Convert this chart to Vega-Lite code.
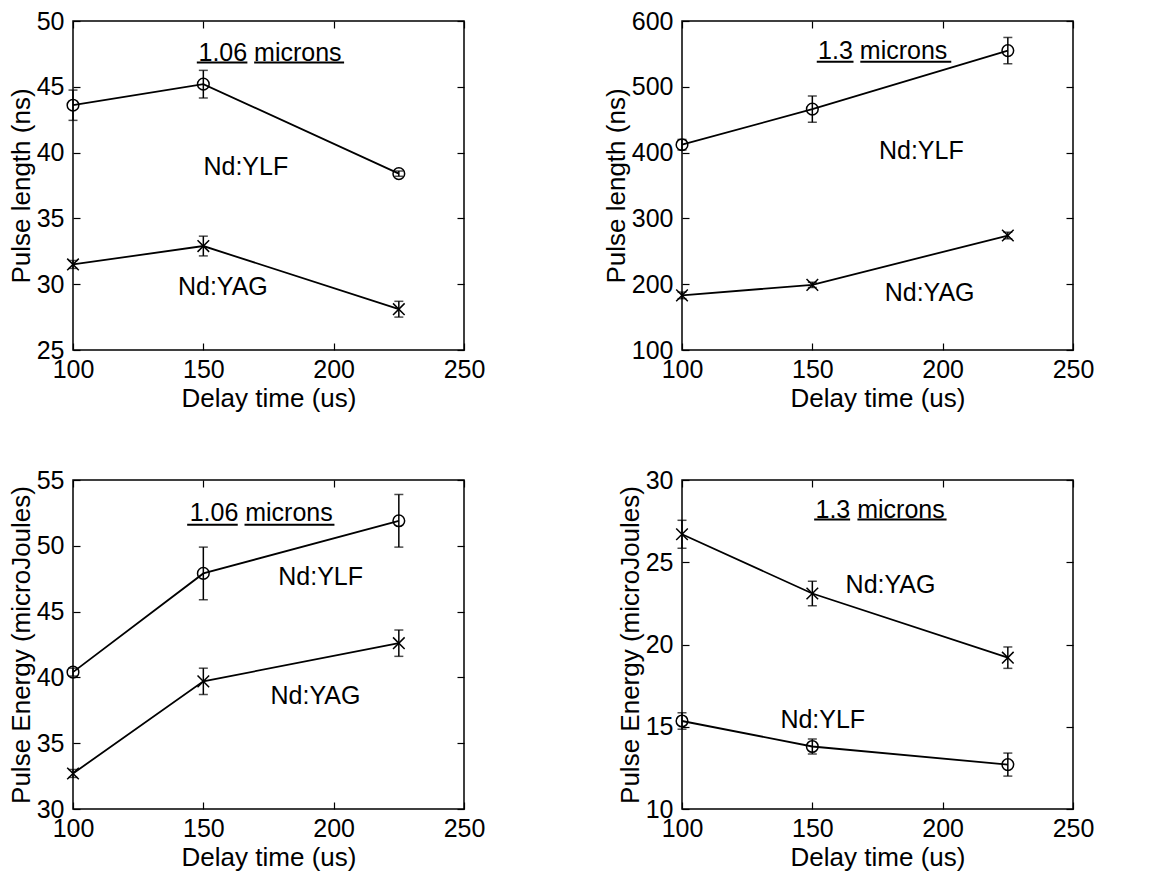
{
  "$schema": "https://vega.github.io/schema/vega-lite/v6.json",
  "background": "white",
  "padding": {"left": 7, "top": 8, "right": 5, "bottom": 5},
  "datasets": {
    "pts": [
      {"p": 1, "c": "YLF", "t": 100, "v": 43.6, "e": 1.15},
      {"p": 1, "c": "YLF", "t": 150, "v": 45.2, "e": 1.05},
      {"p": 1, "c": "YLF", "t": 225, "v": 38.4, "e": 0.2},
      {"p": 1, "c": "YAG", "t": 100, "v": 31.5, "e": 0.3},
      {"p": 1, "c": "YAG", "t": 150, "v": 32.9, "e": 0.75},
      {"p": 1, "c": "YAG", "t": 225, "v": 28.1, "e": 0.6},
      {"p": 2, "c": "YLF", "t": 100, "v": 412, "e": 8},
      {"p": 2, "c": "YLF", "t": 150, "v": 466, "e": 20},
      {"p": 2, "c": "YLF", "t": 225, "v": 555, "e": 20},
      {"p": 2, "c": "YAG", "t": 100, "v": 183, "e": 5},
      {"p": 2, "c": "YAG", "t": 150, "v": 199, "e": 4},
      {"p": 2, "c": "YAG", "t": 225, "v": 274, "e": 5},
      {"p": 3, "c": "YLF", "t": 100, "v": 40.4, "e": 0.3},
      {"p": 3, "c": "YLF", "t": 150, "v": 47.9, "e": 2.0},
      {"p": 3, "c": "YLF", "t": 225, "v": 51.9, "e": 2.0},
      {"p": 3, "c": "YAG", "t": 100, "v": 32.7, "e": 0.3},
      {"p": 3, "c": "YAG", "t": 150, "v": 39.7, "e": 1.0},
      {"p": 3, "c": "YAG", "t": 225, "v": 42.6, "e": 1.0},
      {"p": 4, "c": "YAG", "t": 100, "v": 26.7, "e": 0.85},
      {"p": 4, "c": "YAG", "t": 150, "v": 23.1, "e": 0.75},
      {"p": 4, "c": "YAG", "t": 225, "v": 19.2, "e": 0.65},
      {"p": 4, "c": "YLF", "t": 100, "v": 15.35, "e": 0.5},
      {"p": 4, "c": "YLF", "t": 150, "v": 13.8, "e": 0.45},
      {"p": 4, "c": "YLF", "t": 225, "v": 12.7, "e": 0.7}
    ],
    "notes": [
      {"p": 1, "t": 175.6, "v": 47.6, "label": "1.06 microns"},
      {"p": 1, "t": 166.3, "v": 38.9, "label": "Nd:YLF"},
      {"p": 1, "t": 157.5, "v": 29.8, "label": "Nd:YAG"},
      {"p": 2, "t": 177, "v": 554.5, "label": "1.3 microns"},
      {"p": 2, "t": 191.8, "v": 403, "label": "Nd:YLF"},
      {"p": 2, "t": 195, "v": 186, "label": "Nd:YAG"},
      {"p": 3, "t": 172.2, "v": 52.5, "label": "1.06 microns"},
      {"p": 3, "t": 195, "v": 47.6, "label": "Nd:YLF"},
      {"p": 3, "t": 193, "v": 38.6, "label": "Nd:YAG"},
      {"p": 4, "t": 176, "v": 28.2, "label": "1.3 microns"},
      {"p": 4, "t": 180, "v": 23.6, "label": "Nd:YAG"},
      {"p": 4, "t": 154, "v": 15.4, "label": "Nd:YLF"}
    ],
    "ul": [
      {"p": 1, "t": 147.5, "t2": 166.9, "v": 46.85},
      {"p": 1, "t": 169.5, "t2": 204, "v": 46.85},
      {"p": 2, "t": 151.7, "t2": 165.8, "v": 538},
      {"p": 2, "t": 168.4, "t2": 203.3, "v": 538},
      {"p": 3, "t": 143.8, "t2": 163.2, "v": 51.6},
      {"p": 3, "t": 165.8, "t2": 200.3, "v": 51.6},
      {"p": 4, "t": 150.7, "t2": 164.5, "v": 27.6},
      {"p": 4, "t": 167.3, "t2": 201.5, "v": 27.6}
    ]
  },
  "columns": 2,
  "align": "each",
  "spacing": {"row": 55, "column": 116},
  "concat": [
    {
      "width": 391, "height": 329,
      "resolve": {"axis": {"x": "independent", "y": "independent"}},
      "layer": [
        {"data": {"name": "pts"}, "transform": [{"filter": "datum.p == 1"}],
         "mark": {"type": "line", "color": "black", "strokeWidth": 1.8},
         "encoding": {
           "x": {"field": "t", "type": "quantitative", "scale": {"domain": [100, 250], "nice": false, "zero": false}, "axis": {"title": "Delay time (us)", "values": [100, 150, 200, 250]}},
           "y": {"field": "v", "type": "quantitative", "scale": {"domain": [25, 50], "nice": false, "zero": false}, "axis": {"title": "Pulse length (ns)", "values": [25, 30, 35, 40, 45, 50]}},
           "detail": {"field": "c"}}},
        {"data": {"name": "pts"}, "transform": [{"filter": "datum.p == 1"}],
         "mark": {"type": "errorbar", "ticks": {"size": 9}, "color": "black", "thickness": 1.5},
         "encoding": {
           "x": {"field": "t", "type": "quantitative", "scale": {"domain": [100, 250], "nice": false, "zero": false}, "axis": {"orient": "top", "labels": false, "title": null, "values": [100, 150, 200, 250]}},
           "y": {"field": "v", "type": "quantitative", "scale": {"domain": [25, 50], "nice": false, "zero": false}, "axis": {"orient": "right", "labels": false, "title": null, "values": [25, 30, 35, 40, 45, 50]}},
           "yError": {"field": "e"}}},
        {"data": {"name": "pts"}, "transform": [{"filter": "datum.p == 1"}],
         "mark": {"type": "point", "filled": false, "color": "black", "strokeWidth": 1.5, "opacity": 1, "size": 135},
         "encoding": {
           "x": {"field": "t", "type": "quantitative", "scale": {"domain": [100, 250], "nice": false, "zero": false}, "axis": null},
           "y": {"field": "v", "type": "quantitative", "scale": {"domain": [25, 50], "nice": false, "zero": false}, "axis": null},
           "shape": {"field": "c", "type": "nominal", "scale": {"domain": ["YLF", "YAG"], "range": ["circle", "M-1,-1L1,1M-1,1L1,-1"]}, "legend": null}}},
        {"data": {"name": "notes"}, "transform": [{"filter": "datum.p == 1"}],
         "mark": {"type": "text", "font": "Liberation Sans", "fontSize": 25, "color": "black", "align": "center", "baseline": "middle"},
         "encoding": {
           "x": {"field": "t", "type": "quantitative", "scale": {"domain": [100, 250], "nice": false, "zero": false}, "axis": null},
           "y": {"field": "v", "type": "quantitative", "scale": {"domain": [25, 50], "nice": false, "zero": false}, "axis": null},
           "text": {"field": "label"}}},
        {"data": {"name": "ul"}, "transform": [{"filter": "datum.p == 1"}],
         "mark": {"type": "rule", "color": "black", "strokeWidth": 2},
         "encoding": {
           "x": {"field": "t", "type": "quantitative", "scale": {"domain": [100, 250], "nice": false, "zero": false}, "axis": null},
           "x2": {"field": "t2"},
           "y": {"field": "v", "type": "quantitative", "scale": {"domain": [25, 50], "nice": false, "zero": false}, "axis": null}}}
      ]
    },
    {
      "width": 391, "height": 329,
      "resolve": {"axis": {"x": "independent", "y": "independent"}},
      "layer": [
        {"data": {"name": "pts"}, "transform": [{"filter": "datum.p == 2"}],
         "mark": {"type": "line", "color": "black", "strokeWidth": 1.8},
         "encoding": {
           "x": {"field": "t", "type": "quantitative", "scale": {"domain": [100, 250], "nice": false, "zero": false}, "axis": {"title": "Delay time (us)", "values": [100, 150, 200, 250]}},
           "y": {"field": "v", "type": "quantitative", "scale": {"domain": [100, 600], "nice": false, "zero": false}, "axis": {"title": "Pulse length (ns)", "values": [100, 200, 300, 400, 500, 600]}},
           "detail": {"field": "c"}}},
        {"data": {"name": "pts"}, "transform": [{"filter": "datum.p == 2"}],
         "mark": {"type": "errorbar", "ticks": {"size": 9}, "color": "black", "thickness": 1.5},
         "encoding": {
           "x": {"field": "t", "type": "quantitative", "scale": {"domain": [100, 250], "nice": false, "zero": false}, "axis": {"orient": "top", "labels": false, "title": null, "values": [100, 150, 200, 250]}},
           "y": {"field": "v", "type": "quantitative", "scale": {"domain": [100, 600], "nice": false, "zero": false}, "axis": {"orient": "right", "labels": false, "title": null, "values": [100, 200, 300, 400, 500, 600]}},
           "yError": {"field": "e"}}},
        {"data": {"name": "pts"}, "transform": [{"filter": "datum.p == 2"}],
         "mark": {"type": "point", "filled": false, "color": "black", "strokeWidth": 1.5, "opacity": 1, "size": 135},
         "encoding": {
           "x": {"field": "t", "type": "quantitative", "scale": {"domain": [100, 250], "nice": false, "zero": false}, "axis": null},
           "y": {"field": "v", "type": "quantitative", "scale": {"domain": [100, 600], "nice": false, "zero": false}, "axis": null},
           "shape": {"field": "c", "type": "nominal", "scale": {"domain": ["YLF", "YAG"], "range": ["circle", "M-1,-1L1,1M-1,1L1,-1"]}, "legend": null}}},
        {"data": {"name": "notes"}, "transform": [{"filter": "datum.p == 2"}],
         "mark": {"type": "text", "font": "Liberation Sans", "fontSize": 25, "color": "black", "align": "center", "baseline": "middle"},
         "encoding": {
           "x": {"field": "t", "type": "quantitative", "scale": {"domain": [100, 250], "nice": false, "zero": false}, "axis": null},
           "y": {"field": "v", "type": "quantitative", "scale": {"domain": [100, 600], "nice": false, "zero": false}, "axis": null},
           "text": {"field": "label"}}},
        {"data": {"name": "ul"}, "transform": [{"filter": "datum.p == 2"}],
         "mark": {"type": "rule", "color": "black", "strokeWidth": 2},
         "encoding": {
           "x": {"field": "t", "type": "quantitative", "scale": {"domain": [100, 250], "nice": false, "zero": false}, "axis": null},
           "x2": {"field": "t2"},
           "y": {"field": "v", "type": "quantitative", "scale": {"domain": [100, 600], "nice": false, "zero": false}, "axis": null}}}
      ]
    },
    {
      "width": 391, "height": 329,
      "resolve": {"axis": {"x": "independent", "y": "independent"}},
      "layer": [
        {"data": {"name": "pts"}, "transform": [{"filter": "datum.p == 3"}],
         "mark": {"type": "line", "color": "black", "strokeWidth": 1.8},
         "encoding": {
           "x": {"field": "t", "type": "quantitative", "scale": {"domain": [100, 250], "nice": false, "zero": false}, "axis": {"title": "Delay time (us)", "values": [100, 150, 200, 250]}},
           "y": {"field": "v", "type": "quantitative", "scale": {"domain": [30, 55], "nice": false, "zero": false}, "axis": {"title": "Pulse Energy (microJoules)", "values": [30, 35, 40, 45, 50, 55]}},
           "detail": {"field": "c"}}},
        {"data": {"name": "pts"}, "transform": [{"filter": "datum.p == 3"}],
         "mark": {"type": "errorbar", "ticks": {"size": 9}, "color": "black", "thickness": 1.5},
         "encoding": {
           "x": {"field": "t", "type": "quantitative", "scale": {"domain": [100, 250], "nice": false, "zero": false}, "axis": {"orient": "top", "labels": false, "title": null, "values": [100, 150, 200, 250]}},
           "y": {"field": "v", "type": "quantitative", "scale": {"domain": [30, 55], "nice": false, "zero": false}, "axis": {"orient": "right", "labels": false, "title": null, "values": [30, 35, 40, 45, 50, 55]}},
           "yError": {"field": "e"}}},
        {"data": {"name": "pts"}, "transform": [{"filter": "datum.p == 3"}],
         "mark": {"type": "point", "filled": false, "color": "black", "strokeWidth": 1.5, "opacity": 1, "size": 135},
         "encoding": {
           "x": {"field": "t", "type": "quantitative", "scale": {"domain": [100, 250], "nice": false, "zero": false}, "axis": null},
           "y": {"field": "v", "type": "quantitative", "scale": {"domain": [30, 55], "nice": false, "zero": false}, "axis": null},
           "shape": {"field": "c", "type": "nominal", "scale": {"domain": ["YLF", "YAG"], "range": ["circle", "M-1,-1L1,1M-1,1L1,-1"]}, "legend": null}}},
        {"data": {"name": "notes"}, "transform": [{"filter": "datum.p == 3"}],
         "mark": {"type": "text", "font": "Liberation Sans", "fontSize": 25, "color": "black", "align": "center", "baseline": "middle"},
         "encoding": {
           "x": {"field": "t", "type": "quantitative", "scale": {"domain": [100, 250], "nice": false, "zero": false}, "axis": null},
           "y": {"field": "v", "type": "quantitative", "scale": {"domain": [30, 55], "nice": false, "zero": false}, "axis": null},
           "text": {"field": "label"}}},
        {"data": {"name": "ul"}, "transform": [{"filter": "datum.p == 3"}],
         "mark": {"type": "rule", "color": "black", "strokeWidth": 2},
         "encoding": {
           "x": {"field": "t", "type": "quantitative", "scale": {"domain": [100, 250], "nice": false, "zero": false}, "axis": null},
           "x2": {"field": "t2"},
           "y": {"field": "v", "type": "quantitative", "scale": {"domain": [30, 55], "nice": false, "zero": false}, "axis": null}}}
      ]
    },
    {
      "width": 391, "height": 329,
      "resolve": {"axis": {"x": "independent", "y": "independent"}},
      "layer": [
        {"data": {"name": "pts"}, "transform": [{"filter": "datum.p == 4"}],
         "mark": {"type": "line", "color": "black", "strokeWidth": 1.8},
         "encoding": {
           "x": {"field": "t", "type": "quantitative", "scale": {"domain": [100, 250], "nice": false, "zero": false}, "axis": {"title": "Delay time (us)", "values": [100, 150, 200, 250]}},
           "y": {"field": "v", "type": "quantitative", "scale": {"domain": [10, 30], "nice": false, "zero": false}, "axis": {"title": "Pulse Energy (microJoules)", "values": [10, 15, 20, 25, 30]}},
           "detail": {"field": "c"}}},
        {"data": {"name": "pts"}, "transform": [{"filter": "datum.p == 4"}],
         "mark": {"type": "errorbar", "ticks": {"size": 9}, "color": "black", "thickness": 1.5},
         "encoding": {
           "x": {"field": "t", "type": "quantitative", "scale": {"domain": [100, 250], "nice": false, "zero": false}, "axis": {"orient": "top", "labels": false, "title": null, "values": [100, 150, 200, 250]}},
           "y": {"field": "v", "type": "quantitative", "scale": {"domain": [10, 30], "nice": false, "zero": false}, "axis": {"orient": "right", "labels": false, "title": null, "values": [10, 15, 20, 25, 30]}},
           "yError": {"field": "e"}}},
        {"data": {"name": "pts"}, "transform": [{"filter": "datum.p == 4"}],
         "mark": {"type": "point", "filled": false, "color": "black", "strokeWidth": 1.5, "opacity": 1, "size": 135},
         "encoding": {
           "x": {"field": "t", "type": "quantitative", "scale": {"domain": [100, 250], "nice": false, "zero": false}, "axis": null},
           "y": {"field": "v", "type": "quantitative", "scale": {"domain": [10, 30], "nice": false, "zero": false}, "axis": null},
           "shape": {"field": "c", "type": "nominal", "scale": {"domain": ["YLF", "YAG"], "range": ["circle", "M-1,-1L1,1M-1,1L1,-1"]}, "legend": null}}},
        {"data": {"name": "notes"}, "transform": [{"filter": "datum.p == 4"}],
         "mark": {"type": "text", "font": "Liberation Sans", "fontSize": 25, "color": "black", "align": "center", "baseline": "middle"},
         "encoding": {
           "x": {"field": "t", "type": "quantitative", "scale": {"domain": [100, 250], "nice": false, "zero": false}, "axis": null},
           "y": {"field": "v", "type": "quantitative", "scale": {"domain": [10, 30], "nice": false, "zero": false}, "axis": null},
           "text": {"field": "label"}}},
        {"data": {"name": "ul"}, "transform": [{"filter": "datum.p == 4"}],
         "mark": {"type": "rule", "color": "black", "strokeWidth": 2},
         "encoding": {
           "x": {"field": "t", "type": "quantitative", "scale": {"domain": [100, 250], "nice": false, "zero": false}, "axis": null},
           "x2": {"field": "t2"},
           "y": {"field": "v", "type": "quantitative", "scale": {"domain": [10, 30], "nice": false, "zero": false}, "axis": null}}}
      ]
    }
  ],
  "config": {
    "font": "Liberation Sans",
    "view": {"stroke": "black", "strokeWidth": 1.5},
    "axis": {
      "domain": false, "grid": false, "ticks": true, "tickSize": -7, "tickColor": "black", "tickWidth": 1.2,
      "labelFont": "Liberation Sans", "labelFontSize": 25, "labelColor": "black", "labelPadding": 16,
      "labelOverlap": false, "labelFlush": false,
      "titleFont": "Liberation Sans", "titleFontSize": 26, "titleFontWeight": "normal", "titleColor": "black"
    },
    "axisY": {"titlePadding": 2},
    "axisX": {"titlePadding": 3, "labelPadding": 14}
  }
}
